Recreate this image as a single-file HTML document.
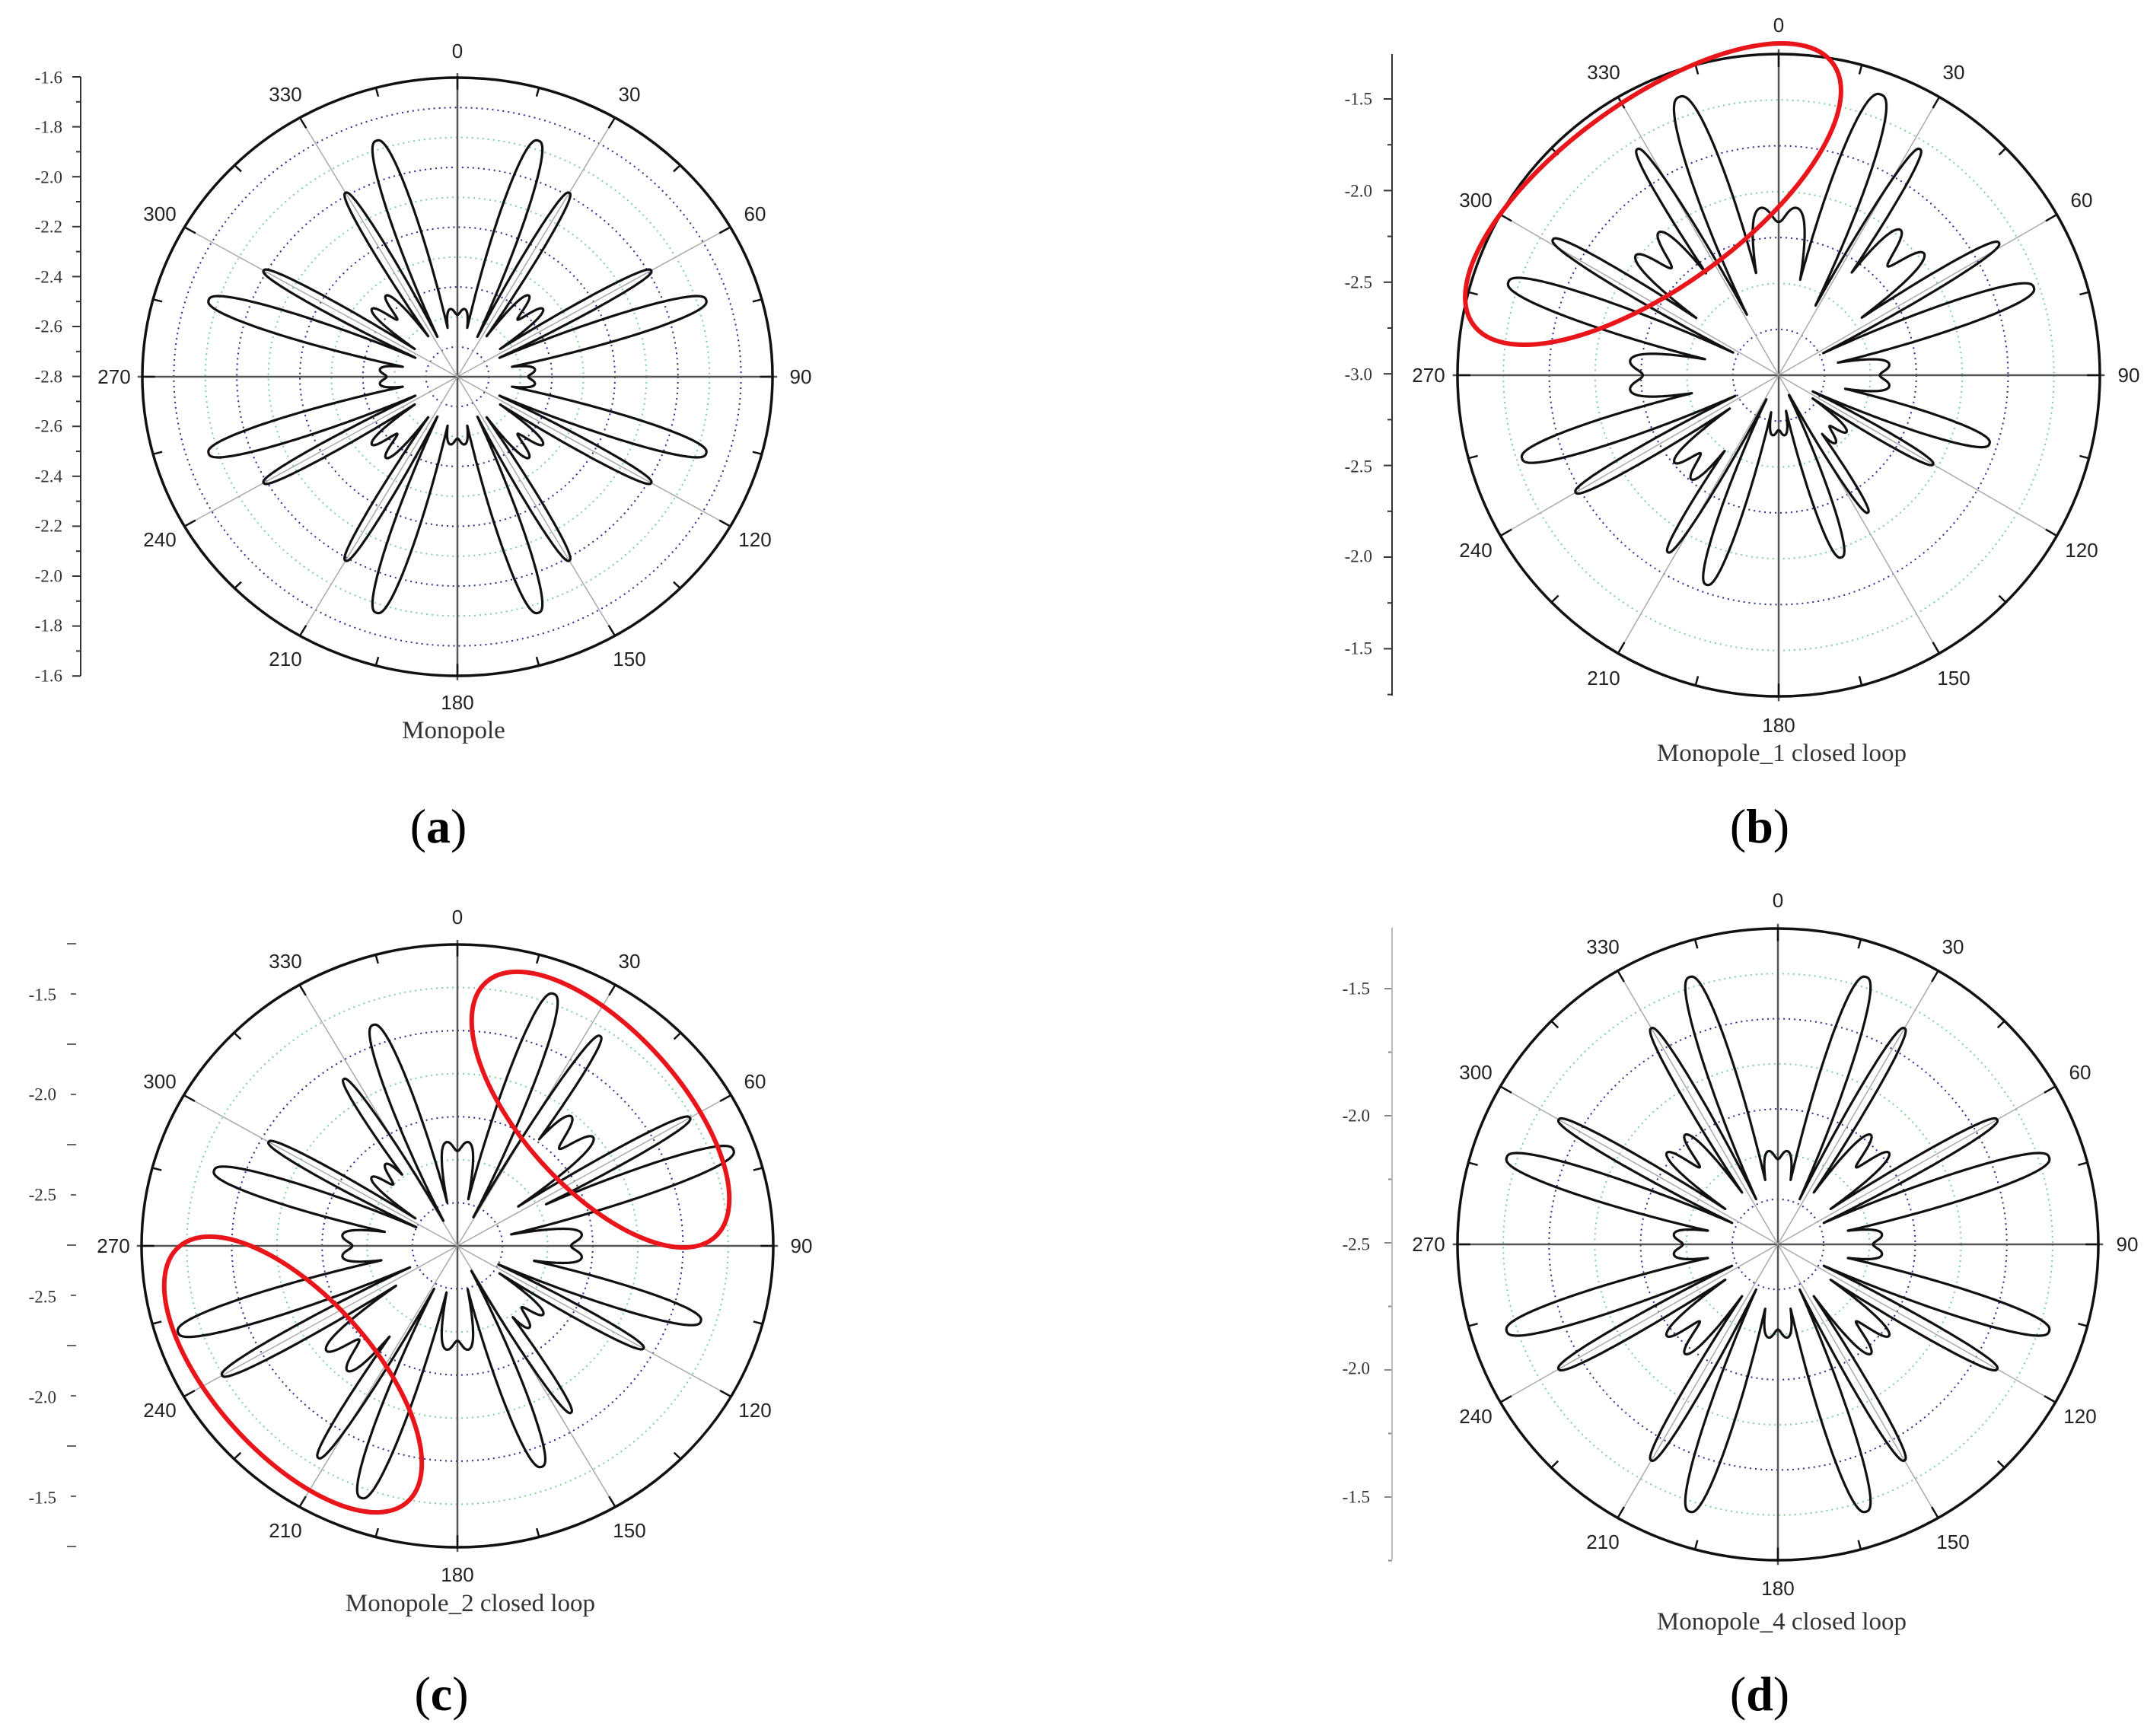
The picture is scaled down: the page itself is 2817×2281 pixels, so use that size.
<!DOCTYPE html>
<html><head><meta charset="utf-8">
<style>
html,body{margin:0;padding:0;background:#fff;}
svg{display:block;}
.n{font-family:"Liberation Sans",sans-serif;font-size:26px;fill:#222;text-anchor:middle;dominant-baseline:central;}
.t{font-family:"Liberation Serif",serif;font-size:23px;fill:#333;text-anchor:end;dominant-baseline:central;}
.cap{font-family:"Liberation Serif",serif;font-size:33px;fill:#333;text-anchor:middle;}
.lab{font-family:"Liberation Serif",serif;font-size:64px;fill:#000;text-anchor:middle;}
</style></head>
<body>
<svg id="s" width="2817" height="2281" viewBox="0 0 2817 2281" xmlns="http://www.w3.org/2000/svg">
<rect width="2817" height="2281" fill="#fff"/>
<g id="plots"></g>

<g>
<text class="n" x="601" y="67">0</text><text class="n" x="827" y="124">30</text><text class="n" x="992" y="281">60</text><text class="n" x="1052" y="495">90</text>
<text class="n" x="992" y="709">120</text><text class="n" x="827" y="866">150</text><text class="n" x="601" y="923">180</text><text class="n" x="375" y="866">210</text>
<text class="n" x="210" y="709">240</text><text class="n" x="150" y="495">270</text><text class="n" x="210" y="281">300</text><text class="n" x="375" y="124">330</text>
<text class="cap" x="596" y="970">Monopole</text>
<text class="lab" x="576" y="1107">(<tspan font-weight="bold">a</tspan>)</text>
<line x1="106" y1="101" x2="106" y2="888" stroke="#333" stroke-width="2"/>
<text class="t" x="82" y="102">-1.6</text><text class="t" x="82" y="167">-1.8</text><text class="t" x="82" y="233">-2.0</text><text class="t" x="82" y="298">-2.2</text>
<text class="t" x="82" y="364">-2.4</text><text class="t" x="82" y="429">-2.6</text><text class="t" x="82" y="495">-2.8</text><text class="t" x="82" y="560">-2.6</text>
<text class="t" x="82" y="626">-2.4</text><text class="t" x="82" y="691">-2.2</text><text class="t" x="82" y="757">-2.0</text><text class="t" x="82" y="822">-1.8</text><text class="t" x="82" y="888">-1.6</text>
</g>

<g>
<text class="n" x="2337" y="33">0</text><text class="n" x="2567" y="95">30</text><text class="n" x="2735" y="263">60</text><text class="n" x="2797" y="493">90</text>
<text class="n" x="2735" y="723">120</text><text class="n" x="2567" y="891">150</text><text class="n" x="2337" y="953">180</text><text class="n" x="2107" y="891">210</text>
<text class="n" x="1939" y="723">240</text><text class="n" x="1877" y="493">270</text><text class="n" x="1939" y="263">300</text><text class="n" x="2107" y="95">330</text>
<text class="cap" x="2341" y="1000">Monopole_1 closed loop</text>
<text class="lab" x="2312" y="1107">(<tspan font-weight="bold">b</tspan>)</text>
<line x1="1829" y1="71" x2="1829" y2="914" stroke="#333" stroke-width="2"/>
<text class="t" x="1803" y="130">-1.5</text><text class="t" x="1803" y="251">-2.0</text><text class="t" x="1803" y="371">-2.5</text><text class="t" x="1803" y="492">-3.0</text>
<text class="t" x="1803" y="613">-2.5</text><text class="t" x="1803" y="731">-2.0</text><text class="t" x="1803" y="852">-1.5</text>
</g>

<g>
<text class="n" x="601" y="1205">0</text><text class="n" x="827" y="1263">30</text><text class="n" x="992" y="1421">60</text><text class="n" x="1053" y="1637">90</text>
<text class="n" x="992" y="1853">120</text><text class="n" x="827" y="2011">150</text><text class="n" x="601" y="2069">180</text><text class="n" x="375" y="2011">210</text>
<text class="n" x="210" y="1853">240</text><text class="n" x="149" y="1637">270</text><text class="n" x="210" y="1421">300</text><text class="n" x="375" y="1263">330</text>
<text class="cap" x="618" y="2117">Monopole_2 closed loop</text>
<text class="lab" x="580" y="2247">(<tspan font-weight="bold">c</tspan>)</text>
<text class="t" x="74" y="1307">-1.5</text><text class="t" x="74" y="1438">-2.0</text><text class="t" x="74" y="1570">-2.5</text>
<text class="t" x="74" y="1704">-2.5</text><text class="t" x="74" y="1836">-2.0</text><text class="t" x="74" y="1968">-1.5</text>
</g>

<g>
<text class="n" x="2336" y="1183">0</text><text class="n" x="2566" y="1244">30</text><text class="n" x="2733" y="1409">60</text><text class="n" x="2795" y="1635">90</text>
<text class="n" x="2733" y="1861">120</text><text class="n" x="2566" y="2026">150</text><text class="n" x="2336" y="2087">180</text><text class="n" x="2106" y="2026">210</text>
<text class="n" x="1939" y="1861">240</text><text class="n" x="1877" y="1635">270</text><text class="n" x="1939" y="1409">300</text><text class="n" x="2106" y="1244">330</text>
<text class="cap" x="2341" y="2141">Monopole_4 closed loop</text>
<text class="lab" x="2312" y="2247">(<tspan font-weight="bold">d</tspan>)</text>
<line x1="1829" y1="1219" x2="1829" y2="2049" stroke="#bbb" stroke-width="2"/>
<text class="t" x="1800" y="1299">-1.5</text><text class="t" x="1800" y="1466">-2.0</text><text class="t" x="1800" y="1635">-2.5</text>
<text class="t" x="1800" y="1798">-2.0</text><text class="t" x="1800" y="1967">-1.5</text>
</g>

<ellipse cx="2172" cy="255" rx="292" ry="122" transform="rotate(-36 2172 255)" fill="none" stroke="#e8161b" stroke-width="6"/>
<ellipse cx="789" cy="1458" rx="225" ry="104" transform="rotate(48 789 1458)" fill="none" stroke="#e8161b" stroke-width="6"/>
<ellipse cx="385" cy="1806" rx="225" ry="104" transform="rotate(48 385 1806)" fill="none" stroke="#e8161b" stroke-width="6"/>
</svg>
<script>
(function(){
var NS="http://www.w3.org/2000/svg",G=document.getElementById("plots");
function el(n,a){var e=document.createElementNS(NS,n);for(var k in a)e.setAttribute(k,a[k]);G.appendChild(e);return e;}
function sym(big,bw,small,sw){var L=[];for(var k=0;k<4;k++){var b=90*k;L.push([b+18,big,bw],[b-18,big,bw],[b+30,small,sw],[b-30,small,sw]);}return L;}
function adiff(a,b){var d=((a-b)%360+540)%360-180;return d;}
function panel(p){
  var cx=p.cx,cy=p.cy,rx=p.rx,ry=p.ry,i,k;
  for(i=1;i<p.nr;i++){el("ellipse",{cx:cx,cy:cy,rx:rx*i/p.nr,ry:ry*i/p.nr,fill:"none",stroke:(i%2?"#2a2a8a":"#7fcf9a"),"stroke-width":2,"stroke-dasharray":"2 5"});}
  for(k=0;k<12;k++){var t=k*30*Math.PI/180,main=(k%3==0);
    el("line",{x1:cx,y1:cy,x2:cx+rx*Math.sin(t)*(main?1.015:1),y2:cy-ry*Math.cos(t)*(main?1.015:1),stroke:main?"#555":"#aaa","stroke-width":main?2.5:1.5});}
  for(k=0;k<24;k++){var t2=k*15*Math.PI/180,s=Math.sin(t2),c=Math.cos(t2),l=(k%2)?0.97:0.96;
    el("line",{x1:cx+rx*s,y1:cy-ry*c,x2:cx+rx*s*l,y2:cy-ry*c*l,stroke:"#111","stroke-width":2.5});}
  el("ellipse",{cx:cx,cy:cy,rx:rx,ry:ry,fill:"none",stroke:"#111","stroke-width":3.5});
  var d="";
  for(i=0;i<=3600;i++){var th=i/10,r=0.07,j;
    for(j=0;j<p.lobes.length;j++){var L=p.lobes[j],dd=adiff(th,L[0]);var v=L[1]*Math.exp(-Math.pow(Math.abs(dd)/L[2],2.6));if(v>r)r=v;}
    for(j=0;j<p.floors.length;j++){var F=p.floors[j],df=adiff(th,F[0]);var w=F[2];
      var v2=F[1]*Math.exp(-Math.pow(df/w,6))*(1-F[3]*Math.exp(-Math.pow(df/(w*0.25),2)));if(v2>r)r=v2;}
    var tt=th*Math.PI/180,x=cx+rx*r*Math.sin(tt),y=cy-ry*r*Math.cos(tt);
    d+=(i?"L":"M")+x.toFixed(1)+" "+y.toFixed(1);}
  el("path",{d:d+"Z",fill:"none",stroke:"#111","stroke-width":3.2,"stroke-linejoin":"round"});
}
function fl(a){var o=[];for(var i=0;i<a.length;i++)o.push([a[i][0],a[i][1],a[i][2]||13,a[i][3]==null?0.1:a[i][3]]);return o;}
var B=6,S=3.8,W=11;
panel({cx:601,cy:495,rx:414,ry:393,nr:10,lobes:sym(0.83,B,0.71,S),
  floors:fl([[0,.23],[90,.25],[180,.23],[270,.25],[45,.36,W,.25],[135,.36,W,.25],[225,.36,W,.25],[315,.36,W,.25]])});
panel({cx:2337,cy:493,rx:422,ry:422,nr:7,lobes:[[-19.6,.92,7],[-32,.83,S],[-59,.82,S],[-71,.89,B],[20,.93,7],[32,.83,S],[59,.8,S],[71,.84,B],[108,.69,B],[120,.555,S],[147,.51,S],[161,.6,B],[199,.69,B],[212,.65,S],[240,.73,S],[252,.84,B]],
  floors:fl([[0,.53,14],[90,.35],[180,.19],[270,.47],[45,.6,W,.2],[135,.28,W,.2],[225,.43,W,.2],[315,.59,W,.2]])});
panel({cx:601,cy:1637,rx:415,ry:396,nr:7,lobes:[[20,.89,B],[33,.83,S],[60,.85,S],[70,.93,B],[108,.81,B],[120,.68,S],[147,.66,S],[160,.78,B],[200,.89,B],[212,.83,S],[240,.86,S],[252,.93,B],[288,.81,B],[300,.69,S],[327,.66,S],[340,.78,B]],
  floors:fl([[0,.35],[90,.40],[180,.35],[270,.37],[45,.57,W,.2],[135,.36,W,.2],[225,.55,W,.2],[315,.36,W,.2]])});
panel({cx:2336,cy:1635,rx:421,ry:415,nr:7,lobes:sym(0.89,B,0.79,S),
  floors:fl([[0,.30],[90,.33],[180,.30],[270,.33],[45,.46,W,.25],[135,.46,W,.25],[225,.46,W,.25],[315,.46,W,.25]])});
function tick(x,y,l,c){el("line",{x1:x,y1:y,x2:x-l,y2:y,stroke:c,"stroke-width":2});}
for(var i=0;i<=24;i++){tick(106,101+i*32.8,i%2?6:11,"#333");}
for(i=0;i<=13;i++){var yy=130+i*60.2;if(yy<=914)tick(1829,yy,i%2?6:11,"#333");}
for(i=0;i<=12;i++){tick(100,1240+i*66,i%2?7:12,"#666");}
for(i=0;i<=9;i++){tick(1829,1299+i*83.5,i%2?5:10,"#888");}
})();
</script>
</body></html>
